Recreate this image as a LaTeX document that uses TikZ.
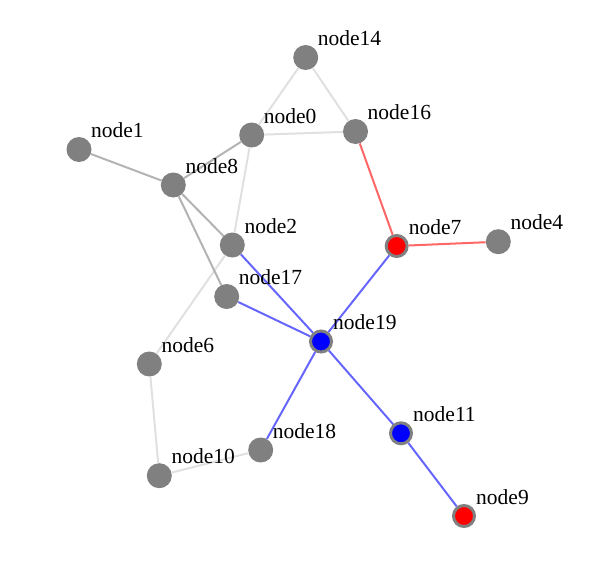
\documentclass[tikz,border=0pt]{standalone}
\usepackage{fontspec}
\setmainfont{Liberation Serif}
\usepackage{xcolor}
\usetikzlibrary{calc}
\definecolor{nd}{HTML}{808080}
\definecolor{lgt}{HTML}{E0E0E0}
\definecolor{mid}{HTML}{B3B3B3}
\definecolor{redge}{HTML}{FF6666}
\definecolor{bedge}{HTML}{6666FF}
\tikzset{
  vtx/.style={circle, fill=nd, minimum size=25pt, inner sep=0pt},
  hot/.style={circle, draw=nd, line width=3pt, minimum size=21pt, inner sep=0pt},
  lbl/.style={anchor=base west, inner sep=0pt, font=\fontsize{21.5}{22}\selectfont},
  eg/.style={line width=2pt}}

\begin{document}
\begin{tikzpicture}[x=1pt, y=-1pt]
\useasboundingbox (0,0) rectangle (591,562);
\node[vtx] (n14) at (305.7,57.5) {};
\node[vtx] (n0) at (251.7,135) {};
\node[vtx] (n16) at (355.5,131.5) {};
\node[vtx] (n1) at (79,149.5) {};
\node[vtx] (n8) at (173.3,185) {};
\node[vtx] (n2) at (232.3,245) {};
\node[hot, fill=red] (n7) at (396.7,246) {};
\node[vtx] (n4) at (498.3,241.7) {};
\node[vtx] (n17) at (226.7,296.5) {};
\node[hot, fill=blue] (n19) at (321,341.5) {};
\node[vtx] (n6) at (149.3,364) {};
\node[hot, fill=blue] (n11) at (401,433.3) {};
\node[vtx] (n18) at (260.7,450) {};
\node[vtx] (n10) at (159.3,475.7) {};
\node[hot, fill=red] (n9) at (464,516) {};
% edges
\draw[eg, lgt] (n14) -- (n0);
\draw[eg, lgt] (n14) -- (n16);
\draw[eg, lgt] (n0) -- (n16);
\draw[eg, lgt] (n0) -- (n2);
\draw[eg, lgt] (n2) -- (n6);
\draw[eg, lgt] (n6) -- (n10);
\draw[eg, lgt] (n10) -- (n18);
\draw[eg, mid] (n1) -- (n8);
\draw[eg, mid] (n8) -- (n0);
\draw[eg, mid] (n8) -- (n2);
\draw[eg, mid] (n8) -- (n17);
\draw[eg, redge] (n16) -- (n7);
\draw[eg, redge] (n7) -- (n4);
\draw[eg, bedge] (n7) -- (n19);
\draw[eg, bedge] (n2) -- (n19);
\draw[eg, bedge] (n17) -- (n19);
\draw[eg, bedge] (n19) -- (n18);
\draw[eg, bedge] (n19) -- (n11);
\draw[eg, bedge] (n11) -- (n9);
% labels
\node[lbl] (l14) at ($(n14)+(12,-12)$) {node14};
\node[lbl] (l0) at ($(n0)+(12,-12)$) {node0};
\node[lbl] (l16) at ($(n16)+(12,-12)$) {node16};
\node[lbl] (l1) at ($(n1)+(12,-12)$) {node1};
\node[lbl] (l8) at ($(n8)+(12,-12)$) {node8};
\node[lbl] (l2) at ($(n2)+(12,-12)$) {node2};
\node[lbl] (l7) at ($(n7)+(12,-12)$) {node7};
\node[lbl] (l4) at ($(n4)+(12,-12)$) {node4};
\node[lbl] (l17) at ($(n17)+(12,-12)$) {node17};
\node[lbl] (l19) at ($(n19)+(12,-12)$) {node19};
\node[lbl] (l6) at ($(n6)+(12,-12)$) {node6};
\node[lbl] (l11) at ($(n11)+(12,-12)$) {node11};
\node[lbl] (l18) at ($(n18)+(12,-12)$) {node18};
\node[lbl] (l10) at ($(n10)+(12,-12)$) {node10};
\node[lbl] (l9) at ($(n9)+(12,-12)$) {node9};
\end{tikzpicture}
\end{document}
